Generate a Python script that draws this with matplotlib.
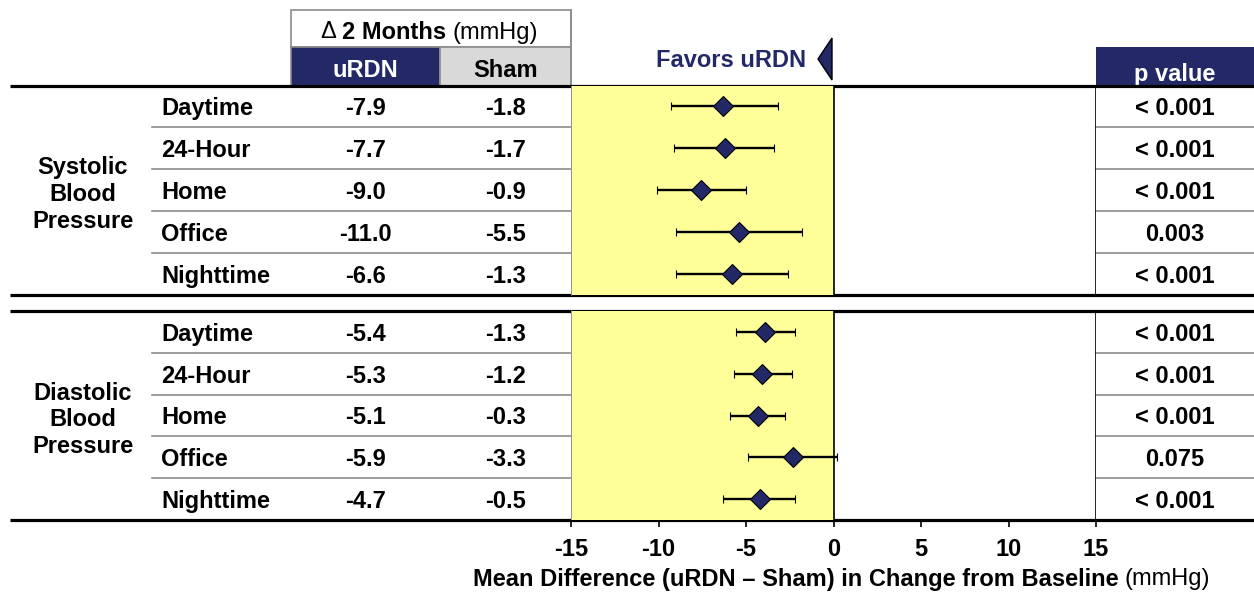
import matplotlib
matplotlib.use("Agg")
import matplotlib.pyplot as plt
from matplotlib.patches import Rectangle, Polygon

plt.rcParams['font.family'] = ['Liberation Sans', 'DejaVu Sans']

# ---------------- data ----------------
measures = ["Daytime", "24-Hour", "Home", "Office", "Nighttime"]
groups = ["Systolic\nBlood\nPressure", "Diastolic\nBlood\nPressure"]

sbp_urdn = ["-7.9", "-7.7", "-9.0", "-11.0", "-6.6"]
sbp_sham = ["-1.8", "-1.7", "-0.9", "-5.5", "-1.3"]
sbp_p = ["< 0.001", "< 0.001", "< 0.001", "0.003", "< 0.001"]
sbp_mean = [-6.3, -6.2, -7.6, -5.4, -5.8]
sbp_lo = [-9.3, -9.1, -10.1, -9.0, -9.0]
sbp_hi = [-3.2, -3.4, -5.0, -1.8, -2.6]

dbp_urdn = ["-5.4", "-5.3", "-5.1", "-5.9", "-4.7"]
dbp_sham = ["-1.3", "-1.2", "-0.3", "-3.3", "-0.5"]
dbp_p = ["< 0.001", "< 0.001", "< 0.001", "0.075", "< 0.001"]
dbp_mean = [-3.9, -4.1, -4.3, -2.3, -4.2]
dbp_lo = [-5.6, -5.7, -5.9, -4.9, -6.3]
dbp_hi = [-2.2, -2.4, -2.8, 0.2, -2.2]

xticks = [-15, -10, -5, 0, 5, 10, 15]

# ---------------- style ----------------
NAVY = "#222966"
YELLOW = "#FFFF99"
GRAYCELL = "#D9D9D9"
SEP = "#8C8C8C"
FS = 17
DY = 2.5  # text baseline nudge (px)

W, H = 1254, 592
fig = plt.figure(figsize=(W / 100, H / 100), dpi=100)

# table (pixel) axes
tab = fig.add_axes([0, 0, 1, 1], zorder=0)
tab.set_xlim(0, W)
tab.set_ylim(H, 0)
tab.axis("off")

# layout (pixel positions)
x_plot0, x_plot1 = 571, 1096
group_tops = [85.5, 311.0]
group_bots = [295.0, 520.0]

ax = fig.add_axes([x_plot0 / W, (H - 520) / H, (x_plot1 - x_plot0) / W, (520 - 85.5) / H], zorder=2)
ax.set_facecolor("none")
ax.set_xlim(-15, 15)
ax.set_ylim(520, 85.5)
for s in ax.spines.values():
    s.set_visible(False)
ax.set_yticks([])
ax.set_xticks(xticks)
ax.set_xticklabels([str(t) for t in xticks], fontsize=FS, fontweight="bold")
ax.tick_params(axis="x", direction="out", length=5, width=1.2, pad=8, color="black")

# header box
tab.add_patch(Rectangle((291, 10), 280, 37, facecolor="white", edgecolor=SEP, lw=1.2, zorder=1))
tab.add_patch(Rectangle((291, 47), 149, 38.5, facecolor=NAVY, edgecolor=SEP, lw=1.2, zorder=1))
tab.add_patch(Rectangle((440, 47), 131, 38.5, facecolor=GRAYCELL, edgecolor=SEP, lw=1.2, zorder=1))
tab.text(336, 30 + DY, "\u0394", ha="right", va="center", fontsize=FS)
tab.text(342, 30 + DY, "2 Months", ha="left", va="center", fontsize=FS, fontweight="bold")
tab.text(453, 30 + DY, "(mmHg)", ha="left", va="center", fontsize=FS)
tab.text(365.5, 68 + DY, "uRDN", ha="center", va="center", fontsize=FS, fontweight="bold", color="white")
tab.text(505.5, 68 + DY, "Sham", ha="center", va="center", fontsize=FS, fontweight="bold", color="black")

# p value header
tab.add_patch(Rectangle((1096, 47), 158, 38.5, facecolor=NAVY, edgecolor="none", zorder=1))
tab.text(1175, 72 + DY, "p value", ha="center", va="center", fontsize=FS, fontweight="bold", color="white")

# favors label + arrow
tab.text(806, 58 + DY, "Favors uRDN", ha="right", va="center", fontsize=FS, fontweight="bold", color=NAVY)
tab.add_patch(Polygon([(832, 38), (832, 80), (818, 59)], closed=True, facecolor=NAVY,
                      edgecolor="black", lw=1.0, zorder=3))

# rows
all_urdn = [sbp_urdn, dbp_urdn]
all_sham = [sbp_sham, dbp_sham]
all_p = [sbp_p, dbp_p]
all_mean = [sbp_mean, dbp_mean]
all_lo = [sbp_lo, dbp_lo]
all_hi = [sbp_hi, dbp_hi]

for g in range(2):
    top, bot = group_tops[g], group_bots[g]
    rh = (bot - top) / len(measures)
    ys = [top + rh * (i + 0.5) for i in range(len(measures))]
    # yellow region
    ax.fill_betweenx([top, bot], -15, 0, color=YELLOW, zorder=0, lw=0)
    # vertical lines within the group
    ax.plot([-15, -15], [top, bot], color="#7F7F7F", lw=1.2, zorder=1)
    ax.plot([0, 0], [top, bot], color="black", lw=1.2, zorder=1)
    ax.plot([15, 15], [top, bot], color="black", lw=1.2, zorder=1)
    # separators
    for i in range(1, len(measures)):
        yb = top + rh * i
        tab.plot([152, x_plot0], [yb, yb], color=SEP, lw=1.2, zorder=1)
        tab.plot([x_plot1, W], [yb, yb], color=SEP, lw=1.2, zorder=1)
    # texts
    tab.text(83, (top + bot) / 2 + 2 + DY, groups[g], ha="center", va="center", fontsize=FS,
             fontweight="bold", linespacing=1.22)
    for i, y in enumerate(ys):
        tab.text(161, y + DY, measures[i], ha="left", va="center", fontsize=FS, fontweight="bold")
        tab.text(365.5, y + DY, all_urdn[g][i], ha="center", va="center", fontsize=FS, fontweight="bold")
        tab.text(505.5, y + DY, all_sham[g][i], ha="center", va="center", fontsize=FS, fontweight="bold")
        tab.text(1175, y + DY, all_p[g][i], ha="center", va="center", fontsize=FS, fontweight="bold")
    m = all_mean[g]
    lo = [mm - l for mm, l in zip(m, all_lo[g])]
    hi = [h - mm for mm, h in zip(m, all_hi[g])]
    ax.errorbar(m, ys, xerr=[lo, hi], fmt="D", color="black", ecolor="black", elinewidth=1.7,
                capsize=3, capthick=2.0, markersize=10.5, markerfacecolor=NAVY,
                markeredgecolor="black", markeredgewidth=0.8, zorder=4)

tab.plot([x_plot0, x_plot0], [10, 85.5], color=SEP, lw=1.2, zorder=1)

# thick horizontal lines
for yl in [85.5, 295, 311, 520]:
    tab.plot([10, W], [yl, yl], color="black", lw=2.3, zorder=3, solid_capstyle="butt")

# x label
tab.text(1125, 577 + DY, "Mean Difference (uRDN \u2013 Sham) in Change from Baseline ", ha="right",
         va="center", fontsize=FS, fontweight="bold")
tab.text(1125, 577 + DY, "(mmHg)", ha="left", va="center", fontsize=FS)

fig.savefig("out.png", dpi=100)
